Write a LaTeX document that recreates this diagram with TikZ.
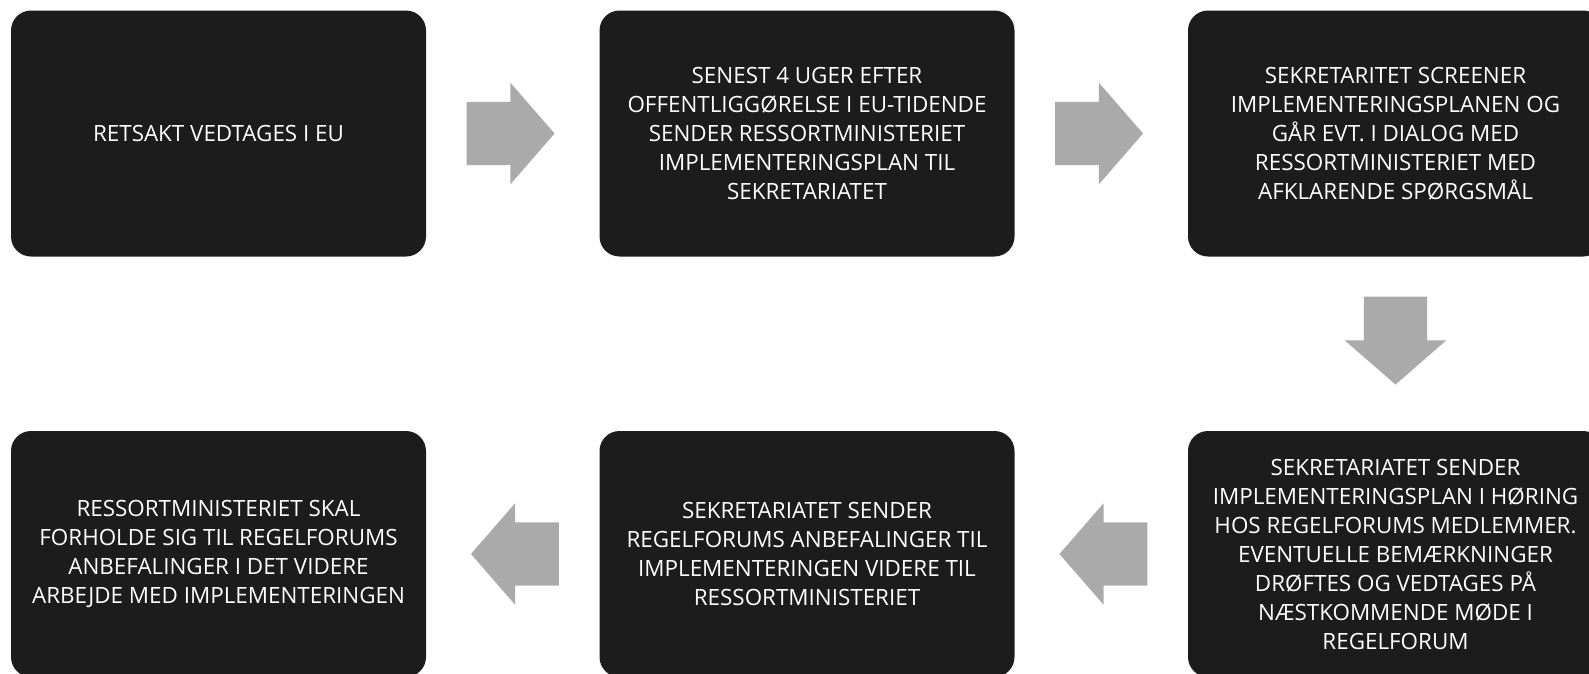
\documentclass[tikz,border=0pt]{standalone}
\usepackage{fontspec}
\setmainfont{Open Sans}
\usetikzlibrary{shapes.arrows, positioning, calc}
\definecolor{boksfarve}{RGB}{28,28,28}
\definecolor{pilfarve}{RGB}{170,170,170}

\begin{document}
\begin{tikzpicture}[x=1pt,y=-1pt,
  boks/.style={fill=boksfarve, rounded corners=20pt, minimum width=415pt, minimum height=246pt, text=white, align=center, font=\fontsize{22.4}{29}\selectfont, inner sep=0pt},
  pil/.style={single arrow, fill=pilfarve, inner sep=0pt, minimum height=88pt, minimum width=101pt, text height=31.5pt, text depth=31.5pt, single arrow head extend=19pt, single arrow tip angle=98}]
\useasboundingbox (0,0) rectangle (1589,673);
% Oeverste raekke
\node[boks] (trin1) at (218.5,133.5) {RETSAKT VEDTAGES I EU};
\node[boks] (trin2) at (807,133.5) {SENEST 4 UGER EFTER\\OFFENTLIGGØRELSE I EU-TIDENDE\\SENDER RESSORTMINISTERIET\\IMPLEMENTERINGSPLAN TIL\\SEKRETARIATET};
\node[boks] (trin3) at (1395.5,133.5) {SEKRETARITET SCREENER\\IMPLEMENTERINGSPLANEN OG\\GÅR EVT. I DIALOG MED\\RESSORTMINISTERIET MED\\AFKLARENDE SPØRGSMÅL};
% Nederste raekke
\node[boks] (trin4) at (1395.5,554) {SEKRETARIATET SENDER\\IMPLEMENTERINGSPLAN I HØRING\\HOS REGELFORUMS MEDLEMMER.\\EVENTUELLE BEMÆRKNINGER\\DRØFTES OG VEDTAGES PÅ\\NÆSTKOMMENDE MØDE I\\REGELFORUM};
\node[boks] (trin5) at (807,554) {SEKRETARIATET SENDER\\REGELFORUMS ANBEFALINGER TIL\\IMPLEMENTERINGEN VIDERE TIL\\RESSORTMINISTERIET};
\node[boks] (trin6) at (218.5,554) {RESSORTMINISTERIET SKAL\\FORHOLDE SIG TIL REGELFORUMS\\ANBEFALINGER I DET VIDERE\\ARBEJDE MED IMPLEMENTERINGEN};
% Pile
\node[pil] (pil12) at ($(trin1.east)!0.5!(trin2.west)+(-16,0)$) {};
\node[pil] (pil23) at ($(trin2.east)!0.5!(trin3.west)+(-16,0)$) {};
\node[pil, rotate=-90] (pil34) at ($(trin3.south)!0.5!(trin4.north)+(0,-17)$) {};
\node[pil, rotate=180] (pil45) at ($(trin4.west)!0.5!(trin5.east)+(16,0)$) {};
\node[pil, rotate=180] (pil56) at ($(trin5.west)!0.5!(trin6.east)+(16,0)$) {};
\end{tikzpicture}
\end{document}
